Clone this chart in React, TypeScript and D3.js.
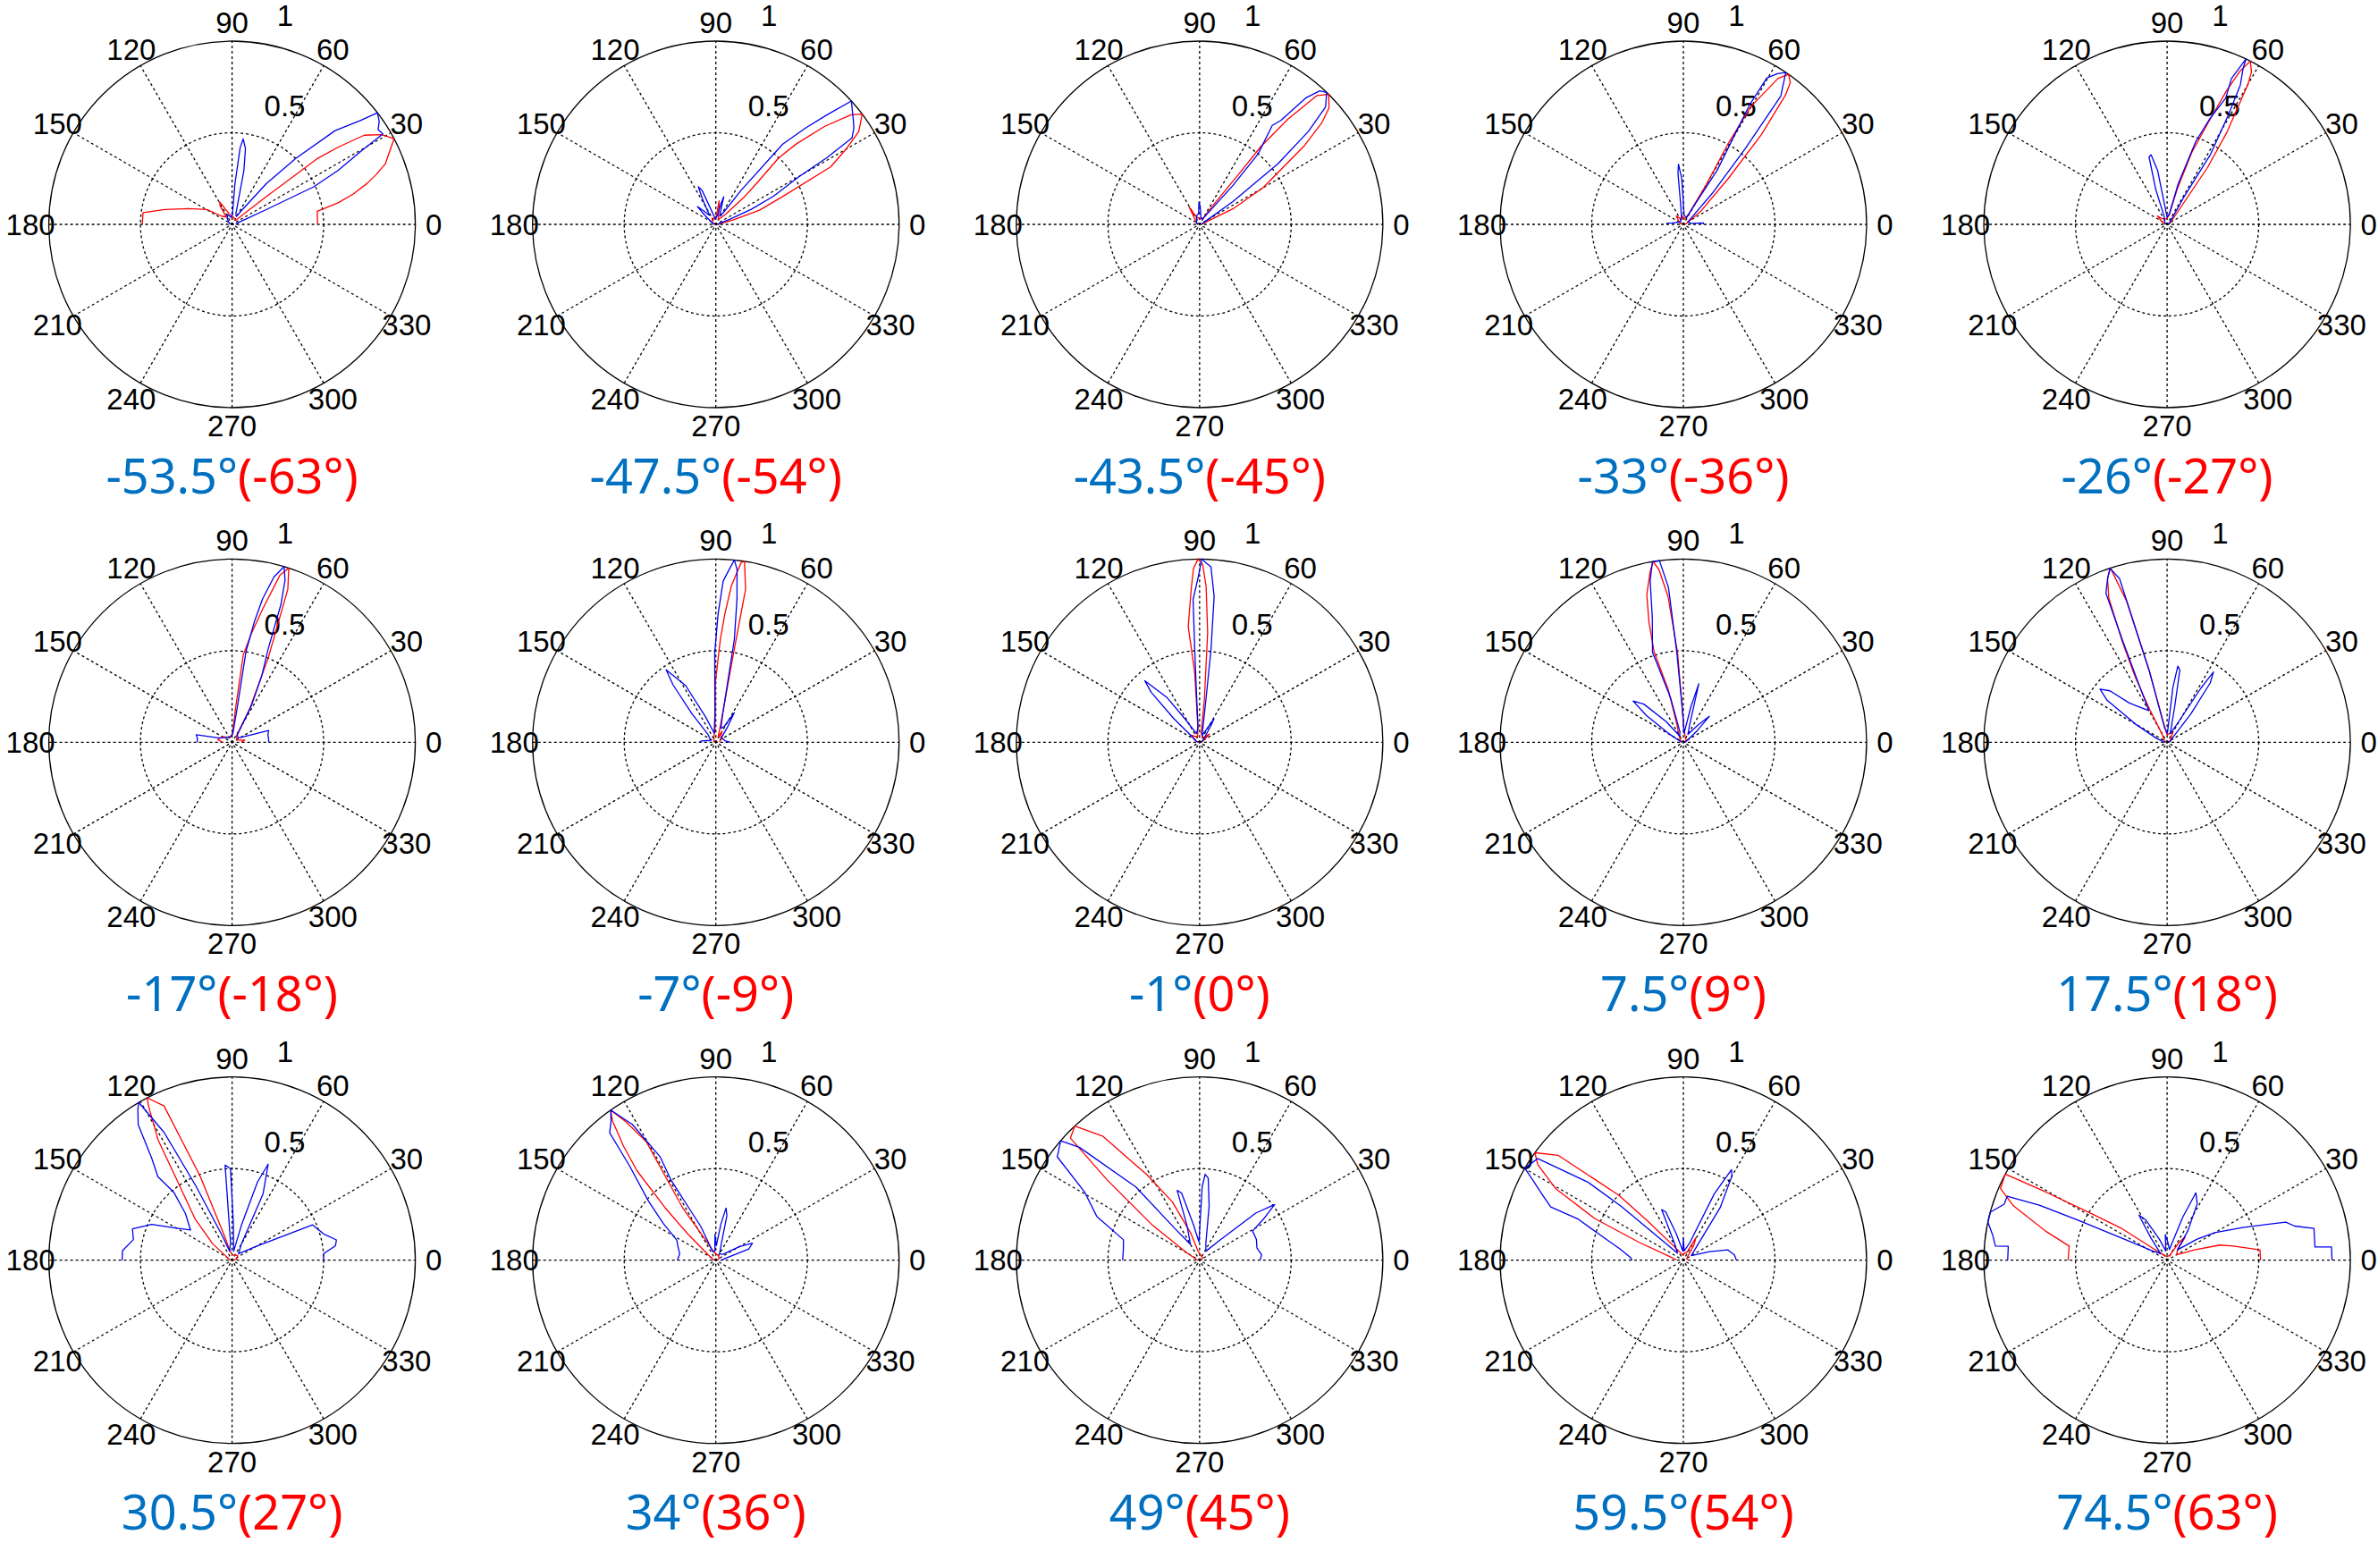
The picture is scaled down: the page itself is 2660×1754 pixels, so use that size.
import React, { useRef, useEffect } from 'react';
import * as d3 from 'd3';

// [angle in degrees, normalised radius]
type Pt = [number, number];

const blueTitles = ['-53.5°', '-47.5°', '-43.5°', '-33°', '-26°', '-17°', '-7°', '-1°', '7.5°', '17.5°', '30.5°', '34°', '49°', '59.5°', '74.5°'];
const redTitles = ['(-63°)', '(-54°)', '(-45°)', '(-36°)', '(-27°)', '(-18°)', '(-9°)', '(0°)', '(9°)', '(18°)', '(27°)', '(36°)', '(45°)', '(54°)', '(63°)'];
const thetaTicks = [0, 30, 60, 90, 120, 150, 180, 210, 240, 270, 300, 330];
const rhoTicks = [0.5, 1];

const p01Blue: Pt[] = [[0, 0.02], [15, 0.03], [21, 0.08], [23.4, 0.2], [24.7, 0.49], [27, 0.65], [29.6, 0.81], [31, 0.96], [33, 0.95], [35, 0.98], [37.5, 1.0], [39, 0.9], [42.3, 0.76], [46, 0.5], [50, 0.29], [55, 0.1], [62, 0.05], [70, 0.06], [77.6, 0.3], [80, 0.42], [82.6, 0.47], [84, 0.42], [86, 0.22], [88, 0.05], [100, 0.04], [115, 0.06], [130, 0.04], [150, 0.02], [180, 0.01]];
const p01Red: Pt[] = [[0, 0.467], [5, 0.467], [8.7, 0.47], [11.5, 0.59], [14, 0.68], [16.9, 0.77], [19, 0.83], [21.6, 0.9], [25, 0.95], [27.9, 1.0], [31, 0.95], [34, 0.87], [36, 0.72], [37.7, 0.585], [39, 0.24], [42, 0.08], [48, 0.03], [60, 0.03], [80, 0.04], [100, 0.05], [115, 0.1], [119, 0.14], [123, 0.12], [128, 0.05], [141.8, 0.073], [149.7, 0.16], [160, 0.25], [167.5, 0.375], [172.5, 0.49], [180, 0.49]];

const p02Blue: Pt[] = [[0, 0.01], [15, 0.02], [20, 0.08], [23, 0.21], [26, 0.35], [29.8, 0.52], [31, 0.71], [32.4, 0.88], [35, 0.92], [38, 0.95], [42.3, 1.0], [44.6, 0.85], [47, 0.72], [50.2, 0.57], [53.5, 0.23], [57, 0.08], [65, 0.05], [72, 0.1], [74, 0.157], [76, 0.12], [80, 0.05], [95, 0.03], [105, 0.06], [112, 0.2], [115, 0.226], [118, 0.15], [125, 0.06], [132, 0.1], [136, 0.14], [140, 0.08], [150, 0.03], [180, 0.01]];
const p02Red: Pt[] = [[0, 0.01], [10, 0.03], [14.6, 0.1], [18, 0.25], [22.5, 0.39], [26.6, 0.7], [30, 0.82], [33, 0.93], [37, 1.0], [39, 0.95], [42, 0.8], [45, 0.62], [46.6, 0.5], [45, 0.3], [44, 0.22], [46, 0.08], [55, 0.04], [65, 0.03], [78, 0.08], [82, 0.13], [86, 0.05], [100, 0.03], [120, 0.04], [150, 0.02], [180, 0.01]];

const p03Blue: Pt[] = [[0, 0.01], [20, 0.02], [30, 0.05], [34.4, 0.22], [37.7, 0.54], [40.5, 0.78], [43, 0.94], [46.1, 1.0], [48, 0.98], [50, 0.9], [52, 0.72], [53.7, 0.67], [50.3, 0.5], [49.4, 0.28], [55, 0.06], [60, 0.03], [80, 0.04], [88, 0.1], [92, 0.12], [95, 0.06], [110, 0.05], [120, 0.03], [150, 0.02], [180, 0.01]];
const p03Red: Pt[] = [[0, 0.01], [15, 0.02], [25, 0.2], [30, 0.4], [34.4, 0.555], [37, 0.72], [39.8, 0.87], [42, 0.95], [45.2, 1.0], [47.7, 0.95], [50, 0.75], [51.8, 0.54], [52, 0.35], [55, 0.12], [60, 0.04], [90, 0.03], [115, 0.05], [121, 0.11], [126, 0.06], [150, 0.02], [180, 0.01]];

const p04Blue: Pt[] = [[0, 0.11], [4, 0.11], [8, 0.04], [30, 0.03], [40, 0.06], [47, 0.23], [50.7, 0.53], [52.8, 0.88], [54, 0.92], [56, 1.0], [58, 0.97], [60.3, 0.92], [61, 0.75], [60.5, 0.62], [58, 0.35], [60, 0.12], [65, 0.04], [85, 0.05], [92, 0.25], [94.6, 0.33], [96, 0.28], [98, 0.1], [105, 0.04], [140, 0.02], [172, 0.06], [176, 0.09], [180, 0.09]];
const p04Red: Pt[] = [[0, 0.01], [20, 0.02], [37, 0.12], [45.6, 0.35], [49, 0.65], [51.7, 0.9], [53, 0.97], [55, 1.0], [57, 0.95], [60.2, 0.74], [61, 0.51], [60, 0.25], [63, 0.06], [80, 0.03], [100, 0.05], [110, 0.03], [130, 0.06], [145, 0.03], [180, 0.01]];

const p05Blue: Pt[] = [[0, 0.01], [40, 0.02], [52, 0.05], [58.5, 0.18], [58.2, 0.45], [60.8, 0.69], [62.3, 0.86], [64, 0.945], [64.5, 1.0], [66.2, 0.87], [65.1, 0.76], [68, 0.62], [70.9, 0.48], [74.7, 0.23], [78, 0.06], [90, 0.04], [97, 0.1], [100, 0.3], [103, 0.39], [105, 0.38], [108, 0.2], [110, 0.05], [130, 0.02], [180, 0.01]];
const p05Red: Pt[] = [[0, 0.01], [30, 0.02], [45, 0.05], [54.6, 0.38], [57, 0.6], [60, 0.88], [61, 0.95], [63, 1.0], [64.5, 0.93], [66, 0.8], [68, 0.6], [71, 0.42], [74, 0.2], [78, 0.05], [100, 0.03], [130, 0.04], [139, 0.07], [148, 0.04], [180, 0.01]];

const p06Blue: Pt[] = [[0, 0.2], [6, 0.2], [12, 0.2], [18, 0.21], [22, 0.1], [35, 0.04], [55, 0.05], [62.3, 0.23], [66, 0.4], [68.9, 0.55], [70.5, 0.8], [71.9, 0.93], [73.5, 1.0], [75.8, 0.93], [78, 0.8], [79.5, 0.67], [81.3, 0.5], [81.5, 0.2], [85, 0.05], [110, 0.03], [150, 0.05], [162, 0.08], [168, 0.2], [174, 0.19], [180, 0.19]];
const p06Red: Pt[] = [[0, 0.05], [10, 0.07], [25, 0.03], [55, 0.04], [62, 0.2], [66.8, 0.5], [70, 0.89], [72, 1.0], [74, 0.95], [77, 0.75], [80, 0.6], [82.7, 0.48], [84, 0.2], [88, 0.04], [120, 0.03], [150, 0.06], [170, 0.08], [180, 0.05]];

const p07Blue: Pt[] = [[0, 0.08], [10, 0.05], [40, 0.04], [52, 0.1], [58, 0.19], [62, 0.1], [70, 0.08], [76, 0.15], [78.3, 0.27], [79.8, 0.57], [81.6, 0.79], [83, 0.95], [84.2, 1.0], [86, 0.93], [87.4, 0.88], [89, 0.7], [90.7, 0.49], [92, 0.15], [100, 0.05], [112, 0.15], [118, 0.35], [124.4, 0.48], [126.7, 0.39], [130, 0.2], [135, 0.06], [160, 0.03], [175, 0.08], [180, 0.09]];
const p07Red: Pt[] = [[0, 0.02], [30, 0.03], [55, 0.05], [60, 0.07], [66, 0.03], [75, 0.1], [78.8, 0.52], [79, 0.85], [81, 1.0], [82, 0.99], [84.3, 0.86], [86, 0.7], [87.5, 0.56], [90.6, 0.32], [93, 0.08], [110, 0.03], [180, 0.01]];

const p08Blue: Pt[] = [[0, 0.01], [40, 0.03], [55, 0.1], [58.4, 0.15], [62, 0.08], [70, 0.04], [81.6, 0.24], [83, 0.51], [84.3, 0.8], [86.3, 0.96], [88, 0.98], [89.3, 1.0], [90.5, 0.9], [92.6, 0.78], [93, 0.51], [93.5, 0.3], [96, 0.08], [110, 0.05], [122, 0.15], [126, 0.3], [131.7, 0.45], [134, 0.38], [137.5, 0.19], [142, 0.06], [160, 0.02], [180, 0.01]];
const p08Red: Pt[] = [[0, 0.01], [30, 0.03], [40, 0.07], [50, 0.03], [80, 0.05], [83.7, 0.24], [85.8, 0.6], [87.6, 0.85], [89, 0.97], [90.5, 1.0], [92, 0.95], [93, 0.85], [95.6, 0.635], [94, 0.38], [96, 0.1], [110, 0.03], [140, 0.06], [160, 0.02], [180, 0.01]];

const p09Blue: Pt[] = [[0, 0.01], [30, 0.03], [40, 0.1], [45, 0.2], [50, 0.12], [60, 0.05], [70, 0.1], [75.2, 0.33], [78, 0.2], [85, 0.05], [92, 0.2], [94.2, 0.5], [95.5, 0.85], [97.5, 1.0], [99.7, 1.0], [101.6, 0.9], [104, 0.7], [108.9, 0.52], [106, 0.25], [108, 0.06], [120, 0.04], [130, 0.15], [136, 0.3], [140.6, 0.355], [144, 0.25], [150, 0.08], [160, 0.02], [180, 0.01]];
const p09Red: Pt[] = [[0, 0.01], [40, 0.02], [70, 0.03], [88, 0.08], [93.7, 0.49], [96, 0.8], [98, 0.95], [99.5, 1.0], [101, 0.95], [103.9, 0.83], [106, 0.68], [107.9, 0.52], [106, 0.3], [110, 0.1], [125, 0.04], [180, 0.01]];

const p10Blue: Pt[] = [[0, 0.01], [20, 0.02], [40, 0.04], [50, 0.2], [54, 0.4], [56.6, 0.46], [58, 0.35], [62, 0.1], [70, 0.05], [78, 0.2], [80, 0.4], [82, 0.42], [84, 0.3], [88, 0.05], [100, 0.08], [104, 0.4], [106.2, 0.93], [108.2, 1.0], [110, 0.95], [112.3, 0.88], [113.6, 0.61], [116, 0.35], [120, 0.2], [130, 0.26], [134, 0.3], [138, 0.42], [141.6, 0.467], [145, 0.4], [150, 0.2], [160, 0.06], [170, 0.02], [180, 0.01]];
const p10Red: Pt[] = [[0, 0.01], [30, 0.02], [60, 0.06], [75, 0.05], [90, 0.04], [100, 0.1], [104, 0.4], [106, 0.8], [108, 1.0], [110, 0.95], [112, 0.85], [114, 0.6], [116, 0.4], [118, 0.2], [122, 0.05], [140, 0.02], [180, 0.01]];

const p11Blue: Pt[] = [[0, 0.5], [4, 0.5], [8, 0.57], [11, 0.58], [16, 0.52], [23.7, 0.48], [30, 0.15], [45, 0.05], [60, 0.1], [65, 0.4], [69.4, 0.56], [72, 0.45], [75, 0.2], [80, 0.05], [88, 0.2], [91, 0.5], [94.2, 0.52], [95, 0.1], [105, 0.05], [112, 0.15], [116, 0.45], [118, 0.79], [120.6, 1.0], [122, 0.97], [124.7, 0.9], [128.2, 0.71], [131.6, 0.61], [130.6, 0.49], [135, 0.36], [144, 0.28], [150, 0.35], [156, 0.48], [162.5, 0.57], [168.2, 0.55], [175, 0.6], [180, 0.6]];
const p11Red: Pt[] = [[0, 0.01], [20, 0.03], [40, 0.04], [90, 0.03], [104, 0.06], [107.5, 0.14], [110.8, 0.49], [113.8, 0.92], [117.6, 1.0], [118.4, 0.96], [121.6, 0.77], [124.9, 0.51], [132, 0.3], [139.6, 0.14], [150, 0.03], [180, 0.01]];

const p12Blue: Pt[] = [[0, 0.03], [10, 0.05], [18.7, 0.19], [25, 0.22], [30, 0.15], [40, 0.05], [60, 0.04], [72, 0.1], [76, 0.25], [78.9, 0.29], [82, 0.2], [88, 0.08], [92, 0.14], [96, 0.05], [110, 0.05], [114, 0.2], [119.2, 0.5], [118.3, 0.64], [121.6, 0.87], [125, 1.0], [127, 0.95], [129.8, 0.905], [132.4, 0.7], [138.7, 0.49], [145, 0.35], [152.6, 0.24], [160, 0.22], [170, 0.2], [180, 0.21]];
const p12Red: Pt[] = [[0, 0.01], [30, 0.02], [60, 0.03], [100, 0.04], [115, 0.1], [122.3, 0.34], [120.4, 0.75], [123, 0.9], [125, 1.0], [126.5, 0.95], [129, 0.8], [131.4, 0.65], [134, 0.4], [136.9, 0.21], [145, 0.05], [180, 0.01]];

const p13Blue: Pt[] = [[0, 0.33], [5, 0.34], [12, 0.32], [20, 0.33], [28.8, 0.33], [33, 0.42], [36.6, 0.51], [40, 0.4], [45, 0.15], [55, 0.06], [70, 0.1], [80, 0.3], [84, 0.45], [86.3, 0.47], [88, 0.4], [92, 0.1], [100, 0.2], [105, 0.38], [107.8, 0.4], [110, 0.2], [120, 0.1], [128, 0.22], [131, 0.53], [136.8, 0.9], [139.3, 1.0], [144, 0.96], [149.3, 0.73], [156.9, 0.61], [165, 0.43], [172, 0.42], [180, 0.42]];
const p13Red: Pt[] = [[0, 0.01], [40, 0.02], [80, 0.03], [100, 0.05], [107.8, 0.15], [115, 0.35], [121.7, 0.55], [128, 0.86], [132.9, 1.0], [136.6, 0.97], [139, 0.67], [143.4, 0.32], [150, 0.08], [180, 0.01]];

const p14Blue: Pt[] = [[0, 0.29], [6, 0.28], [13, 0.25], [18, 0.15], [30, 0.05], [45, 0.1], [55, 0.35], [60, 0.53], [62, 0.56], [65, 0.4], [70, 0.1], [85, 0.05], [90, 0.12], [93, 0.05], [105, 0.15], [110, 0.28], [113.2, 0.3], [118, 0.1], [130, 0.05], [139.1, 0.45], [140.7, 0.67], [145.1, 0.97], [149.9, 1.0], [152, 0.93], [155, 0.85], [158.1, 0.78], [158.6, 0.62], [162.5, 0.49], [170, 0.35], [176.8, 0.29], [180, 0.28]];
const p14Red: Pt[] = [[0, 0.03], [20, 0.02], [40, 0.03], [55, 0.1], [60.8, 0.14], [65, 0.05], [100, 0.03], [125, 0.1], [132.2, 0.285], [134.8, 0.5], [140, 0.89], [144.1, 1.0], [146.7, 0.95], [150.7, 0.8], [154.8, 0.535], [158, 0.26], [165, 0.08], [175, 0.04], [180, 0.04]];

const p15Blue: Pt[] = [[0, 0.9], [4.6, 0.9], [5.1, 0.81], [12.2, 0.82], [15, 0.72], [17.8, 0.68], [23.4, 0.45], [30, 0.3], [35.2, 0.2], [45, 0.08], [55, 0.2], [62, 0.35], [66.9, 0.4], [70, 0.25], [78, 0.06], [88, 0.1], [94, 0.14], [98, 0.05], [110, 0.12], [118, 0.25], [122, 0.29], [126, 0.15], [135, 0.05], [148, 0.1], [154, 0.27], [155.8, 0.53], [156.7, 0.76], [158.2, 0.94], [161, 0.94], [164.8, 1.0], [168, 1.0], [172, 0.96], [175.3, 0.94], [175, 0.87], [180, 0.87]];
const p15Red: Pt[] = [[0, 0.51], [6.4, 0.51], [12, 0.37], [16, 0.3], [20.7, 0.16], [30, 0.06], [45, 0.08], [52, 0.16], [56, 0.12], [62, 0.03], [90, 0.02], [120, 0.03], [140, 0.1], [145, 0.3], [148.4, 0.49], [150.8, 0.78], [152, 1.0], [156.7, 0.99], [160.5, 0.89], [166.6, 0.68], [171.8, 0.54], [180, 0.54]];

const blueSeries = [p01Blue, p02Blue, p03Blue, p04Blue, p05Blue, p06Blue, p07Blue, p08Blue, p09Blue, p10Blue, p11Blue, p12Blue, p13Blue, p14Blue, p15Blue];
const redSeries = [p01Red, p02Red, p03Red, p04Red, p05Red, p06Red, p07Red, p08Red, p09Red, p10Red, p11Red, p12Red, p13Red, p14Red, p15Red];

const WIDTH = 2660;
const HEIGHT = 1754;
const RADIUS = 205;
const COLS = 5;

const App: React.FC = () => {
  const svgRef = useRef<SVGSVGElement | null>(null);

  useEffect(() => {
    if (!svgRef.current) return;
    const svg = d3.select(svgRef.current);
    svg.selectAll('*').remove();

    svg.append('rect').attr('width', WIDTH).attr('height', HEIGHT).attr('fill', '#fff');

    // grid of small multiples
    const xPos = d3.scaleLinear().domain([0, COLS - 1]).range([259.6, 2424.1]);
    const yPos = d3.scaleLinear().domain([0, 2]).range([251, 1409.7]);
    const r = d3.scaleLinear().domain([0, 1]).range([0, RADIUS]);
    const rad = (deg: number) => (deg * Math.PI) / 180;

    const line = d3.lineRadial<Pt>()
      .angle(d => rad(90 - d[0]))
      .radius(d => r(d[1]));

    blueSeries.forEach((blue, i) => {
      const cx = xPos(i % COLS);
      const cy = yPos(Math.floor(i / COLS));
      const g = svg.append('g').attr('transform', `translate(${cx},${cy})`);

      // spokes (dotted)
      thetaTicks.filter(a => a < 180).forEach(a => {
        const x = r(1) * Math.cos(rad(a));
        const y = -r(1) * Math.sin(rad(a));
        g.append('line')
          .attr('x1', -x).attr('y1', -y)
          .attr('x2', x).attr('y2', y)
          .attr('stroke', '#000')
          .attr('stroke-width', 1.3)
          .attr('stroke-dasharray', '3,3');
      });

      // rho circles: dotted inside, solid rim
      rhoTicks.forEach(t => {
        g.append('circle')
          .attr('r', r(t))
          .attr('fill', 'none')
          .attr('stroke', '#000')
          .attr('stroke-width', t < 1 ? 1.3 : 1.3)
          .attr('stroke-dasharray', t < 1 ? '3,3' : null);
      });

      // angle labels
      thetaTicks.forEach(a => {
        g.append('text')
          .attr('x', r(1.1) * Math.cos(rad(a)))
          .attr('y', -r(1.1) * Math.sin(rad(a)))
          .attr('text-anchor', 'middle')
          .attr('dominant-baseline', 'central')
          .attr('font-family', '"Liberation Sans", Arial, sans-serif')
          .attr('font-size', 33)
          .attr('fill', '#000')
          .text(String(a));
      });

      // rho labels at 82 degrees
      rhoTicks.forEach(t => {
        const rr = r(t + 0.025);
        g.append('text')
          .attr('x', rr * Math.cos(rad(82)) + 21)
          .attr('y', -rr * Math.sin(rad(82)) - 14)
          .attr('font-family', '"Liberation Sans", Arial, sans-serif')
          .attr('font-size', 33)
          .attr('fill', '#000')
          .text(String(t));
      });

      // data
      g.append('path')
        .datum(redSeries[i])
        .attr('d', line)
        .attr('fill', 'none')
        .attr('stroke', '#ff0000')
        .attr('stroke-width', 1.3)
        .attr('stroke-linejoin', 'round');

      g.append('path')
        .datum(blue)
        .attr('d', line)
        .attr('fill', 'none')
        .attr('stroke', '#0000ee')
        .attr('stroke-width', 1.3)
        .attr('stroke-linejoin', 'round');

      // caption
      const cap = g.append('text')
        .attr('x', 0)
        .attr('y', 301)
        .attr('text-anchor', 'middle')
        .attr('font-family', '"Noto Sans", "Open Sans", sans-serif')
        .attr('font-size', 54);
      cap.append('tspan').attr('fill', '#0070c0').text(blueTitles[i]);
      cap.append('tspan').attr('fill', '#ff0000').text(redTitles[i]);
    });
  }, []);

  return (
    <svg
      ref={svgRef}
      width={WIDTH}
      height={HEIGHT}
      style={{ position: 'absolute', left: 0, top: 0, display: 'block' }}
    />
  );
};

export default App;
